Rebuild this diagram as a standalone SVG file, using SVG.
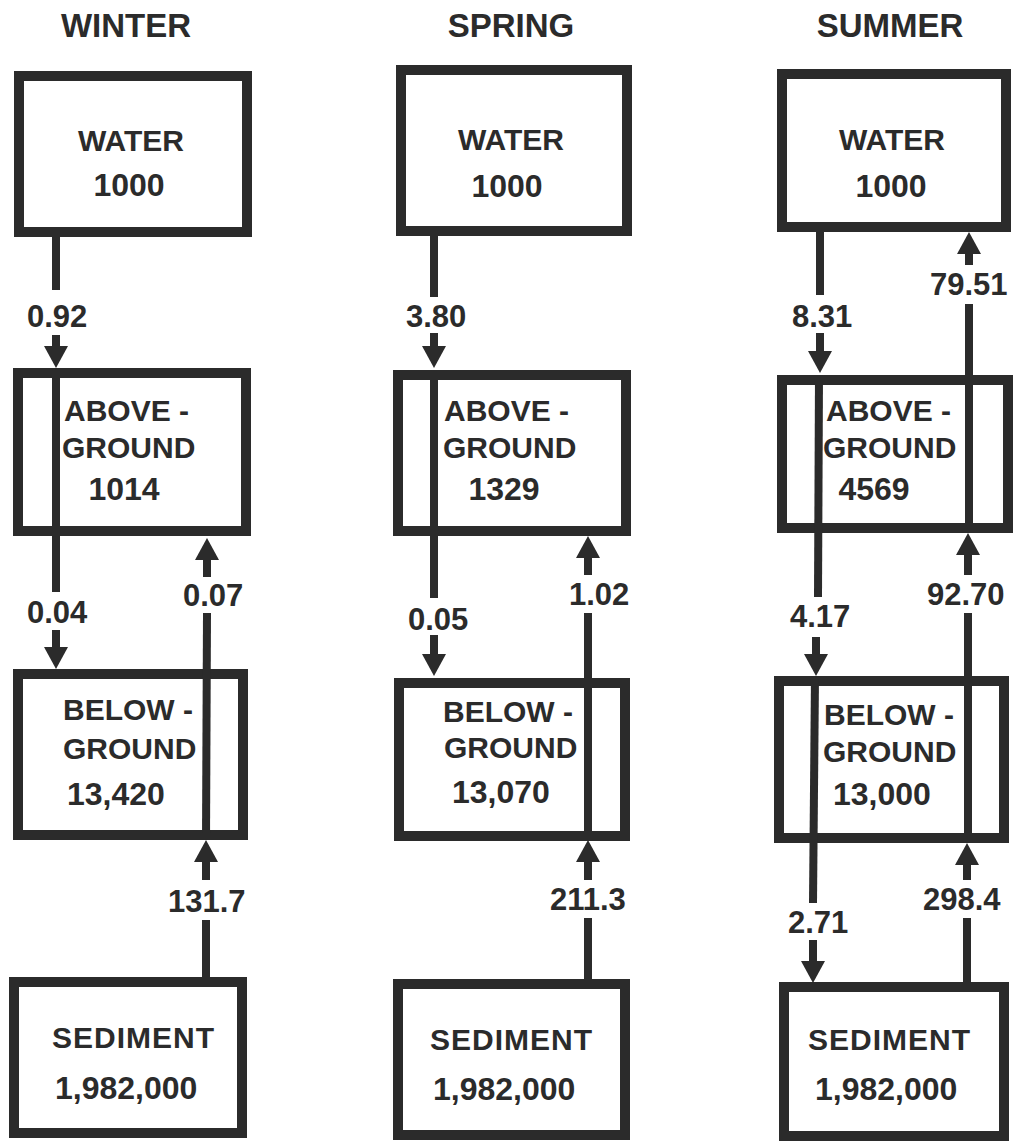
<svg xmlns="http://www.w3.org/2000/svg" width="1019" height="1144" viewBox="0 0 1019 1144">
<style>
.box{fill:#fff;stroke:#2b2b2b;stroke-width:10}
.flow{stroke:#2b2b2b;stroke-width:8;fill:none}
.arr{stroke:#2b2b2b;stroke-width:8;fill:none;marker-end:url(#head)}
text{font-family:"Liberation Sans",Arial,Helvetica,sans-serif;font-weight:bold;fill:#2b2b2b}
.hdr{font-size:33px;text-anchor:middle}
.nm{font-size:30px}
.ct{text-anchor:middle}
.num{font-size:32px}
.fl{font-size:31px}
</style>
<defs>
<marker id="head" markerUnits="userSpaceOnUse" viewBox="0 -12 22 24" markerWidth="22" markerHeight="24" refX="0" refY="0" orient="auto">
<path d="M0,-12 L22,0 L0,12 Z" fill="#2b2b2b"/>
</marker>
</defs>
<rect width="1019" height="1144" fill="#fff"/>

<g id="headers">
<text class="hdr" x="126" y="37">WINTER</text>
<text class="hdr" x="511" y="37">SPRING</text>
<text class="hdr" x="890" y="37">SUMMER</text>
</g>

<!-- WINTER -->
<g id="winter-water">
<rect class="box" x="19" y="76" width="228" height="156"/>
<text class="nm ct" x="131" y="151">WATER</text>
<text class="num ct" x="129" y="196">1000</text>
</g>
<g id="winter-above">
<rect class="box" x="18" y="373" width="228" height="158"/>
<text class="nm" x="64" y="421">ABOVE -</text>
<text class="nm" x="62" y="458">GROUND</text>
<text class="num ct" x="124" y="500">1014</text>
</g>
<g id="winter-below">
<rect class="box" x="18" y="674" width="225" height="161"/>
<text class="nm" x="63" y="720">BELOW -</text>
<text class="nm" x="63" y="759">GROUND</text>
<text class="num" x="67" y="805">13,420</text>
</g>
<g id="winter-sediment">
<rect class="box" x="14" y="982" width="228" height="151"/>
<text class="nm" x="52" y="1048" letter-spacing="1">SEDIMENT</text>
<text class="num" x="55" y="1099">1,982,000</text>
</g>

<!-- SPRING -->
<g id="spring-water">
<rect class="box" x="401" y="70" width="226" height="161"/>
<text class="nm ct" x="511" y="150">WATER</text>
<text class="num ct" x="507" y="197">1000</text>
</g>
<g id="spring-above">
<rect class="box" x="398" y="375" width="228" height="156"/>
<text class="nm" x="444" y="421">ABOVE -</text>
<text class="nm" x="443" y="458">GROUND</text>
<text class="num ct" x="504" y="500">1329</text>
</g>
<g id="spring-below">
<rect class="box" x="399" y="683" width="226" height="153"/>
<text class="nm" x="443" y="722">BELOW -</text>
<text class="nm" x="444" y="758">GROUND</text>
<text class="num" x="452" y="803">13,070</text>
</g>
<g id="spring-sediment">
<rect class="box" x="398" y="984" width="227" height="151"/>
<text class="nm" x="430" y="1050" letter-spacing="1">SEDIMENT</text>
<text class="num" x="433" y="1100">1,982,000</text>
</g>

<!-- SUMMER -->
<g id="summer-water">
<rect class="box" x="782" y="74" width="224" height="153"/>
<text class="nm ct" x="892" y="150">WATER</text>
<text class="num ct" x="891" y="197">1000</text>
</g>
<g id="summer-above">
<rect class="box" x="782" y="380" width="226" height="148"/>
<text class="nm" x="826" y="421">ABOVE -</text>
<text class="nm" x="823" y="458">GROUND</text>
<text class="num ct" x="874" y="500">4569</text>
</g>
<g id="summer-below">
<rect class="box" x="779" y="681" width="225" height="157"/>
<text class="nm" x="824" y="725">BELOW -</text>
<text class="nm" x="823" y="762">GROUND</text>
<text class="num" x="833" y="805">13,000</text>
</g>
<g id="summer-sediment">
<rect class="box" x="784" y="987" width="220" height="149"/>
<text class="nm" x="808" y="1050" letter-spacing="1">SEDIMENT</text>
<text class="num" x="815" y="1100">1,982,000</text>
</g>

<g id="connectors">
<!-- winter -->
<line class="flow" x1="56" y1="237" x2="56" y2="290"/>
<line class="arr" x1="56" y1="335" x2="56" y2="346"/>
<line class="flow" x1="56" y1="368" x2="56" y2="592"/>
<line class="arr" x1="56" y1="630" x2="56" y2="647"/>
<line class="arr" x1="207" y1="577" x2="207" y2="560"/>
<line class="flow" x1="207" y1="613" x2="206" y2="840"/>
<line class="arr" x1="206" y1="880" x2="206" y2="862"/>
<line class="flow" x1="206" y1="920" x2="206" y2="977"/>
<!-- spring -->
<line class="flow" x1="434" y1="236" x2="434" y2="297"/>
<line class="arr" x1="434" y1="333" x2="434" y2="346"/>
<line class="flow" x1="434" y1="370" x2="434" y2="598"/>
<line class="arr" x1="434" y1="635" x2="434" y2="654"/>
<line class="arr" x1="588" y1="575" x2="588" y2="558"/>
<line class="flow" x1="588" y1="613" x2="588" y2="841"/>
<line class="arr" x1="588" y1="880" x2="588" y2="862"/>
<line class="flow" x1="588" y1="918" x2="588" y2="979"/>
<!-- summer -->
<line class="flow" x1="820" y1="232" x2="820" y2="295"/>
<line class="arr" x1="820" y1="333" x2="820" y2="351"/>
<line class="flow" x1="819" y1="375" x2="818" y2="597"/>
<line class="arr" x1="816" y1="637" x2="816" y2="654"/>
<line class="flow" x1="815" y1="676" x2="813" y2="903"/>
<line class="arr" x1="813" y1="940" x2="813" y2="961"/>
<line class="arr" x1="969" y1="265" x2="969" y2="254"/>
<line class="flow" x1="969" y1="304" x2="969" y2="533"/>
<line class="arr" x1="968" y1="575" x2="968" y2="555"/>
<line class="flow" x1="968" y1="613" x2="968" y2="843"/>
<line class="arr" x1="967" y1="880" x2="967" y2="865"/>
<line class="flow" x1="967" y1="918" x2="967" y2="983"/>
</g>

<g id="flow-labels">
<text class="fl" x="27" y="327">0.92</text>
<text class="fl" x="27" y="623">0.04</text>
<text class="fl" x="183" y="606">0.07</text>
<text class="fl" x="168" y="912">131.7</text>
<text class="fl" x="406" y="327">3.80</text>
<text class="fl" x="408" y="630">0.05</text>
<text class="fl" x="569" y="605">1.02</text>
<text class="fl" x="550" y="910">211.3</text>
<text class="fl" x="792" y="327">8.31</text>
<text class="fl" x="930" y="295">79.51</text>
<text class="fl" x="790" y="627">4.17</text>
<text class="fl" x="927" y="605">92.70</text>
<text class="fl" x="788" y="933">2.71</text>
<text class="fl" x="923" y="910">298.4</text>
</g>
</svg>
